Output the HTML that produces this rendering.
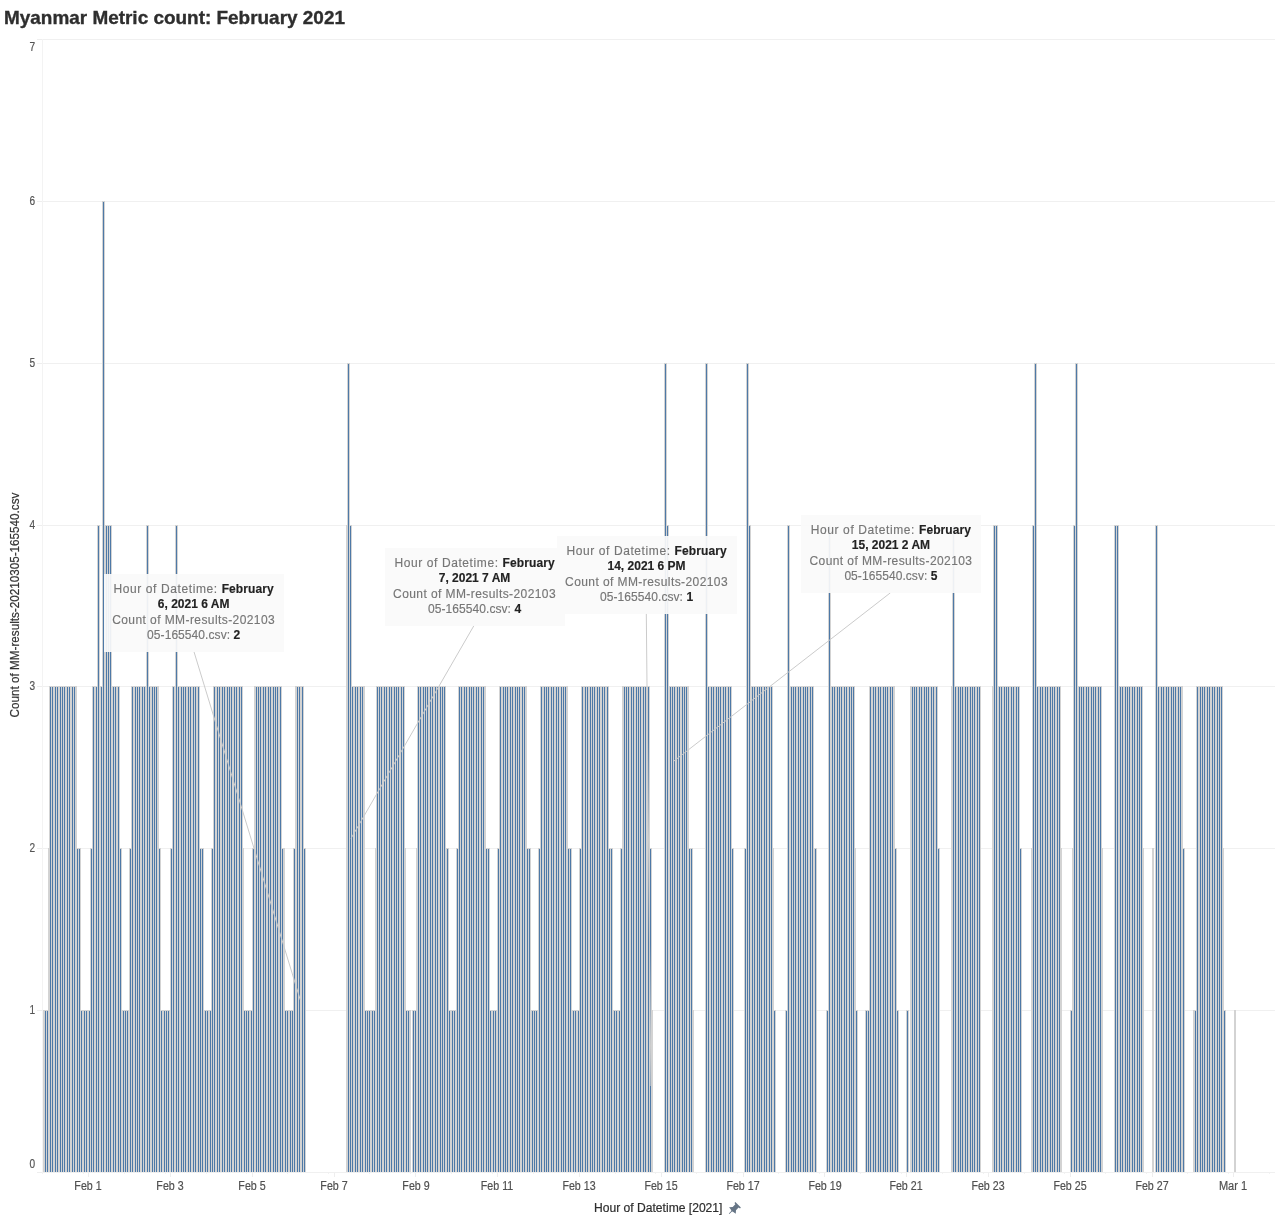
<!DOCTYPE html><html><head><meta charset="utf-8"><title>Myanmar Metric count: February 2021</title><style>
html,body{margin:0;padding:0;background:#fff}
body{width:1275px;height:1223px;position:relative;overflow:hidden;font-family:"Liberation Sans",sans-serif}
.t{position:absolute;white-space:pre;line-height:1}
.title{left:4px;top:9.4px;font-weight:bold;font-size:18.5px;color:#2e2e2e;-webkit-text-stroke:.35px #2e2e2e;transform-origin:0 0;transform:scaleX(1.0235)}
.yl{color:#555;-webkit-text-stroke:.2px #555;font-size:12px;width:30px;text-align:right;left:4.6px;transform-origin:100% 50%;transform:scaleX(.84)}
.xl{color:#505050;-webkit-text-stroke:.2px #505050;font-size:12px;width:60px;text-align:center;top:1179.6px;transform:scaleX(.888)}
.xt{left:593.9px;top:1202px;font-size:12px;color:#2e2e2e;-webkit-text-stroke:.2px #2e2e2e;transform-origin:0 0;transform:scaleX(1.008)}
.yt{left:14.8px;top:604.7px;font-size:12px;color:#333;-webkit-text-stroke:.2px #333;transform:translate(-50%,-50%) rotate(-90deg) scaleX(.974)}
.tip{position:absolute;width:180px;height:78px;background:rgba(250,250,250,.93);font-size:12px;color:#767676;-webkit-text-stroke:.15px #767676;text-align:center}
.tip div{position:absolute;left:0;width:100%;white-space:pre;line-height:15px;height:15px}
.tip b{color:#222;-webkit-text-stroke:.15px #222}
</style></head><body>
<svg width="1275" height="1223" viewBox="0 0 1275 1223" style="position:absolute;left:0;top:0" shape-rendering="crispEdges">
<rect x="43" y="1172" width="1232" height="1" fill="#f0f0f0"/>
<rect x="37" y="1172" width="6" height="1" fill="#eeeeee"/>
<rect x="43" y="1010" width="1232" height="1" fill="#f0f0f0"/>
<rect x="37" y="1010" width="6" height="1" fill="#eeeeee"/>
<rect x="43" y="848" width="1232" height="1" fill="#f0f0f0"/>
<rect x="37" y="848" width="6" height="1" fill="#eeeeee"/>
<rect x="43" y="686" width="1232" height="1" fill="#f0f0f0"/>
<rect x="37" y="686" width="6" height="1" fill="#eeeeee"/>
<rect x="43" y="525" width="1232" height="1" fill="#f0f0f0"/>
<rect x="37" y="525" width="6" height="1" fill="#eeeeee"/>
<rect x="43" y="363" width="1232" height="1" fill="#f0f0f0"/>
<rect x="37" y="363" width="6" height="1" fill="#eeeeee"/>
<rect x="43" y="201" width="1232" height="1" fill="#f0f0f0"/>
<rect x="37" y="201" width="6" height="1" fill="#eeeeee"/>
<rect x="43" y="39" width="1232" height="1" fill="#f0f0f0"/>
<rect x="37" y="39" width="6" height="1" fill="#eeeeee"/>
<rect x="42" y="39" width="1" height="1135" fill="#f3f3f3"/>
<rect x="88" y="1173" width="1" height="4" fill="#eeeeee"/>
<rect x="170" y="1173" width="1" height="4" fill="#eeeeee"/>
<rect x="252" y="1173" width="1" height="4" fill="#eeeeee"/>
<rect x="334" y="1173" width="1" height="4" fill="#eeeeee"/>
<rect x="415" y="1173" width="1" height="4" fill="#eeeeee"/>
<rect x="497" y="1173" width="1" height="4" fill="#eeeeee"/>
<rect x="579" y="1173" width="1" height="4" fill="#eeeeee"/>
<rect x="661" y="1173" width="1" height="4" fill="#eeeeee"/>
<rect x="743" y="1173" width="1" height="4" fill="#eeeeee"/>
<rect x="824" y="1173" width="1" height="4" fill="#eeeeee"/>
<rect x="906" y="1173" width="1" height="4" fill="#eeeeee"/>
<rect x="988" y="1173" width="1" height="4" fill="#eeeeee"/>
<rect x="1070" y="1173" width="1" height="4" fill="#eeeeee"/>
<rect x="1152" y="1173" width="1" height="4" fill="#eeeeee"/>
<rect x="1233" y="1173" width="1" height="4" fill="#eeeeee"/>
<rect x="42" y="1173" width="1" height="1" fill="#f2f2f2"/>
<rect x="83" y="1173" width="1" height="1" fill="#f2f2f2"/>
<rect x="124" y="1173" width="1" height="1" fill="#f2f2f2"/>
<rect x="165" y="1173" width="1" height="1" fill="#f2f2f2"/>
<rect x="206" y="1173" width="1" height="1" fill="#f2f2f2"/>
<rect x="246" y="1173" width="1" height="1" fill="#f2f2f2"/>
<rect x="287" y="1173" width="1" height="1" fill="#f2f2f2"/>
<rect x="328" y="1173" width="1" height="1" fill="#f2f2f2"/>
<rect x="369" y="1173" width="1" height="1" fill="#f2f2f2"/>
<rect x="410" y="1173" width="1" height="1" fill="#f2f2f2"/>
<rect x="451" y="1173" width="1" height="1" fill="#f2f2f2"/>
<rect x="492" y="1173" width="1" height="1" fill="#f2f2f2"/>
<rect x="533" y="1173" width="1" height="1" fill="#f2f2f2"/>
<rect x="574" y="1173" width="1" height="1" fill="#f2f2f2"/>
<rect x="615" y="1173" width="1" height="1" fill="#f2f2f2"/>
<rect x="655" y="1173" width="1" height="1" fill="#f2f2f2"/>
<rect x="696" y="1173" width="1" height="1" fill="#f2f2f2"/>
<rect x="737" y="1173" width="1" height="1" fill="#f2f2f2"/>
<rect x="778" y="1173" width="1" height="1" fill="#f2f2f2"/>
<rect x="819" y="1173" width="1" height="1" fill="#f2f2f2"/>
<rect x="860" y="1173" width="1" height="1" fill="#f2f2f2"/>
<rect x="901" y="1173" width="1" height="1" fill="#f2f2f2"/>
<rect x="942" y="1173" width="1" height="1" fill="#f2f2f2"/>
<rect x="983" y="1173" width="1" height="1" fill="#f2f2f2"/>
<rect x="1024" y="1173" width="1" height="1" fill="#f2f2f2"/>
<rect x="1064" y="1173" width="1" height="1" fill="#f2f2f2"/>
<rect x="1105" y="1173" width="1" height="1" fill="#f2f2f2"/>
<rect x="1146" y="1173" width="1" height="1" fill="#f2f2f2"/>
<rect x="1187" y="1173" width="1" height="1" fill="#f2f2f2"/>
<rect x="1228" y="1173" width="1" height="1" fill="#f2f2f2"/>
<rect x="1269" y="1173" width="1" height="1" fill="#f2f2f2"/>
<path d="M43 1010h1V1172h-1zM44 1010h1V1172h-1zM45 1010h1v1h-1zM46 1010h1V1172h-1zM47 1010h1v1h-1zM48 848h1V1172h-1zM49 686h1V1172h-1zM50 686h1v1h-1zM51 686h1V1172h-1zM52 686h1v1h-1zM53 686h1V1172h-1zM54 686h1V1172h-1zM55 686h1v1h-1zM56 686h1V1172h-1zM57 686h1v1h-1zM58 686h1V1172h-1zM59 686h1V1172h-1zM60 686h1v1h-1zM61 686h1V1172h-1zM62 686h1v1h-1zM63 686h1V1172h-1zM64 686h1v1h-1zM65 686h1V1172h-1zM66 686h1V1172h-1zM67 686h1v1h-1zM68 686h1V1172h-1zM69 686h1v1h-1zM70 686h1V1172h-1zM71 686h1V1172h-1zM72 686h1v1h-1zM73 686h1V1172h-1zM74 686h1v1h-1zM75 686h1V1172h-1zM76 686h1V1172h-1zM77 848h1v1h-1zM78 848h1V1172h-1zM79 848h1v1h-1zM80 848h1V1172h-1zM81 1010h1v1h-1zM82 1010h1V1172h-1zM83 1010h1V1172h-1zM84 1010h1v1h-1zM85 1010h1V1172h-1zM86 1010h1v1h-1zM87 1010h1V1172h-1zM88 1010h1V1172h-1zM89 1010h1v1h-1zM90 848h1V1172h-1zM91 848h1v1h-1zM92 686h1V1172h-1zM93 686h1v1h-1zM94 686h1V1172h-1zM95 686h1V1172h-1zM96 686h1v1h-1zM97 525h1V1172h-1zM98 525h1v1h-1zM99 525h1V1172h-1zM100 686h1V1172h-1zM101 686h1v1h-1zM102 201h1V1172h-1zM103 201h1v1h-1zM104 201h1V1172h-1zM105 525h1V1172h-1zM106 525h1v1h-1zM107 525h1V1172h-1zM108 525h1v1h-1zM109 525h1V1172h-1zM110 525h1v1h-1zM111 525h1V1172h-1zM112 686h1V1172h-1zM113 686h1v1h-1zM114 686h1V1172h-1zM115 686h1v1h-1zM116 686h1V1172h-1zM117 686h1V1172h-1zM118 686h1v1h-1zM119 686h1V1172h-1zM120 848h1v1h-1zM121 848h1V1172h-1zM122 1010h1V1172h-1zM123 1010h1v1h-1zM124 1010h1V1172h-1zM125 1010h1v1h-1zM126 1010h1V1172h-1zM127 1010h1v1h-1zM128 1010h1V1172h-1zM129 848h1V1172h-1zM130 848h1v1h-1zM131 686h1V1172h-1zM132 686h1v1h-1zM133 686h1V1172h-1zM134 686h1V1172h-1zM135 686h1v1h-1zM136 686h1V1172h-1zM137 686h1v1h-1zM138 686h1V1172h-1zM139 686h1v1h-1zM140 686h1V1172h-1zM141 686h1V1172h-1zM142 686h1v1h-1zM143 686h1V1172h-1zM144 686h1v1h-1zM145 686h1V1172h-1zM146 525h1V1172h-1zM147 525h1v1h-1zM148 525h1V1172h-1zM149 686h1v1h-1zM150 686h1V1172h-1zM151 686h1V1172h-1zM152 686h1v1h-1zM153 686h1V1172h-1zM154 686h1v1h-1zM155 686h1V1172h-1zM156 686h1v1h-1zM157 686h1V1172h-1zM158 686h1V1172h-1zM159 848h1v1h-1zM160 848h1V1172h-1zM161 1010h1v1h-1zM162 1010h1V1172h-1zM163 1010h1V1172h-1zM164 1010h1v1h-1zM165 1010h1V1172h-1zM166 1010h1v1h-1zM167 1010h1V1172h-1zM168 1010h1v1h-1zM169 1010h1V1172h-1zM170 848h1V1172h-1zM171 848h1v1h-1zM172 686h1V1172h-1zM173 686h1v1h-1zM174 686h1V1172h-1zM175 525h1V1172h-1zM176 525h1v1h-1zM177 525h1V1172h-1zM178 686h1v1h-1zM179 686h1V1172h-1zM180 686h1V1172h-1zM181 686h1v1h-1zM182 686h1V1172h-1zM183 686h1v1h-1zM184 686h1V1172h-1zM185 686h1v1h-1zM186 686h1V1172h-1zM187 686h1V1172h-1zM188 686h1v1h-1zM189 686h1V1172h-1zM190 686h1v1h-1zM191 686h1V1172h-1zM192 686h1V1172h-1zM193 686h1v1h-1zM194 686h1V1172h-1zM195 686h1v1h-1zM196 686h1V1172h-1zM197 686h1V1172h-1zM198 686h1v1h-1zM199 686h1V1172h-1zM200 848h1v1h-1zM201 848h1V1172h-1zM202 848h1v1h-1zM203 848h1V1172h-1zM204 1010h1V1172h-1zM205 1010h1v1h-1zM206 1010h1V1172h-1zM207 1010h1v1h-1zM208 1010h1V1172h-1zM209 1010h1V1172h-1zM210 1010h1v1h-1zM211 848h1V1172h-1zM212 848h1v1h-1zM213 686h1V1172h-1zM214 686h1v1h-1zM215 686h1V1172h-1zM216 686h1V1172h-1zM217 686h1v1h-1zM218 686h1V1172h-1zM219 686h1v1h-1zM220 686h1V1172h-1zM221 686h1V1172h-1zM222 686h1v1h-1zM223 686h1V1172h-1zM224 686h1v1h-1zM225 686h1V1172h-1zM226 686h1V1172h-1zM227 686h1v1h-1zM228 686h1V1172h-1zM229 686h1v1h-1zM230 686h1V1172h-1zM231 686h1v1h-1zM232 686h1V1172h-1zM233 686h1V1172h-1zM234 686h1v1h-1zM235 686h1V1172h-1zM236 686h1v1h-1zM237 686h1V1172h-1zM238 686h1V1172h-1zM239 686h1v1h-1zM240 686h1V1172h-1zM241 686h1v1h-1zM242 686h1V1172h-1zM243 848h1V1172h-1zM244 1010h1v1h-1zM245 1010h1V1172h-1zM246 1010h1v1h-1zM247 1010h1V1172h-1zM248 1010h1v1h-1zM249 1010h1V1172h-1zM250 1010h1V1172h-1zM251 1010h1v1h-1zM252 848h1V1172h-1zM253 848h1v1h-1zM254 686h1V1172h-1zM255 686h1V1172h-1zM256 686h1v1h-1zM257 686h1V1172h-1zM258 686h1v1h-1zM259 686h1V1172h-1zM260 686h1v1h-1zM261 686h1V1172h-1zM262 686h1V1172h-1zM263 686h1v1h-1zM264 686h1V1172h-1zM265 686h1v1h-1zM266 686h1V1172h-1zM267 686h1V1172h-1zM268 686h1v1h-1zM269 686h1V1172h-1zM270 686h1v1h-1zM271 686h1V1172h-1zM272 686h1V1172h-1zM273 686h1v1h-1zM274 686h1V1172h-1zM275 686h1v1h-1zM276 686h1V1172h-1zM277 686h1v1h-1zM278 686h1V1172h-1zM279 686h1V1172h-1zM280 686h1v1h-1zM281 686h1V1172h-1zM282 848h1v1h-1zM283 848h1V1172h-1zM284 848h1V1172h-1zM285 1010h1v1h-1zM286 1010h1V1172h-1zM287 1010h1v1h-1zM288 1010h1V1172h-1zM289 1010h1V1172h-1zM290 1010h1v1h-1zM291 1010h1V1172h-1zM292 1010h1v1h-1zM293 848h1V1172h-1zM294 848h1v1h-1zM295 686h1V1172h-1zM296 686h1V1172h-1zM297 686h1v1h-1zM298 686h1V1172h-1zM299 686h1v1h-1zM300 686h1V1172h-1zM301 686h1V1172h-1zM302 686h1v1h-1zM303 686h1V1172h-1zM304 848h1v1h-1zM346 525h1V1172h-1zM347 363h1V1172h-1zM348 363h1v1h-1zM349 363h1V1172h-1zM350 525h1v1h-1zM351 525h1V1172h-1zM352 686h1v1h-1zM353 686h1V1172h-1zM354 686h1V1172h-1zM355 686h1v1h-1zM356 686h1V1172h-1zM357 686h1v1h-1zM358 686h1V1172h-1zM359 686h1V1172h-1zM360 686h1v1h-1zM361 686h1V1172h-1zM362 686h1v1h-1zM363 686h1V1172h-1zM364 686h1V1172h-1zM365 1010h1v1h-1zM366 1010h1V1172h-1zM367 1010h1v1h-1zM368 1010h1V1172h-1zM369 1010h1v1h-1zM370 1010h1V1172h-1zM371 1010h1V1172h-1zM372 1010h1v1h-1zM373 1010h1V1172h-1zM374 1010h1v1h-1zM375 848h1V1172h-1zM376 686h1V1172h-1zM377 686h1v1h-1zM378 686h1V1172h-1zM379 686h1v1h-1zM380 686h1V1172h-1zM381 686h1v1h-1zM382 686h1V1172h-1zM383 686h1V1172h-1zM384 686h1v1h-1zM385 686h1V1172h-1zM386 686h1v1h-1zM387 686h1V1172h-1zM388 686h1V1172h-1zM389 686h1v1h-1zM390 686h1V1172h-1zM391 686h1v1h-1zM392 686h1V1172h-1zM393 686h1V1172h-1zM394 686h1v1h-1zM395 686h1V1172h-1zM396 686h1v1h-1zM397 686h1V1172h-1zM398 686h1v1h-1zM399 686h1V1172h-1zM400 686h1V1172h-1zM401 686h1v1h-1zM402 686h1V1172h-1zM403 686h1v1h-1zM404 686h1V1172h-1zM405 848h1V1172h-1zM406 1010h1v1h-1zM407 1010h1V1172h-1zM408 1010h1v1h-1zM409 1010h1V1172h-1zM410 1010h1V1172h-1zM412 1010h1V1172h-1zM413 1010h1v1h-1zM414 1010h1V1172h-1zM415 1010h1v1h-1zM416 848h1V1172h-1zM417 686h1V1172h-1zM418 686h1v1h-1zM419 686h1V1172h-1zM420 686h1v1h-1zM421 686h1V1172h-1zM422 686h1V1172h-1zM423 686h1v1h-1zM424 686h1V1172h-1zM425 686h1v1h-1zM426 686h1V1172h-1zM427 686h1v1h-1zM428 686h1V1172h-1zM429 686h1V1172h-1zM430 686h1v1h-1zM431 686h1V1172h-1zM432 686h1v1h-1zM433 686h1V1172h-1zM434 686h1V1172h-1zM435 686h1v1h-1zM436 686h1V1172h-1zM437 686h1v1h-1zM438 686h1V1172h-1zM439 686h1V1172h-1zM440 686h1v1h-1zM441 686h1V1172h-1zM442 686h1v1h-1zM443 686h1V1172h-1zM444 686h1v1h-1zM445 686h1V1172h-1zM446 848h1V1172h-1zM447 848h1v1h-1zM448 848h1V1172h-1zM449 1010h1v1h-1zM450 1010h1V1172h-1zM451 1010h1V1172h-1zM452 1010h1v1h-1zM453 1010h1V1172h-1zM454 1010h1v1h-1zM455 1010h1V1172h-1zM456 848h1V1172h-1zM457 848h1v1h-1zM458 686h1V1172h-1zM459 686h1v1h-1zM460 686h1V1172h-1zM461 686h1v1h-1zM462 686h1V1172h-1zM463 686h1V1172h-1zM464 686h1v1h-1zM465 686h1V1172h-1zM466 686h1v1h-1zM467 686h1V1172h-1zM468 686h1V1172h-1zM469 686h1v1h-1zM470 686h1V1172h-1zM471 686h1v1h-1zM472 686h1V1172h-1zM473 686h1v1h-1zM474 686h1V1172h-1zM475 686h1V1172h-1zM476 686h1v1h-1zM477 686h1V1172h-1zM478 686h1v1h-1zM479 686h1V1172h-1zM480 686h1V1172h-1zM481 686h1v1h-1zM482 686h1V1172h-1zM483 686h1v1h-1zM484 686h1V1172h-1zM485 686h1V1172h-1zM486 848h1v1h-1zM487 848h1V1172h-1zM488 848h1v1h-1zM489 848h1V1172h-1zM490 1010h1v1h-1zM491 1010h1V1172h-1zM492 1010h1V1172h-1zM493 1010h1v1h-1zM494 1010h1V1172h-1zM495 1010h1v1h-1zM496 1010h1V1172h-1zM497 848h1V1172h-1zM498 848h1v1h-1zM499 686h1V1172h-1zM500 686h1v1h-1zM501 686h1V1172h-1zM502 686h1V1172h-1zM503 686h1v1h-1zM504 686h1V1172h-1zM505 686h1v1h-1zM506 686h1V1172h-1zM507 686h1v1h-1zM508 686h1V1172h-1zM509 686h1V1172h-1zM510 686h1v1h-1zM511 686h1V1172h-1zM512 686h1v1h-1zM513 686h1V1172h-1zM514 686h1V1172h-1zM515 686h1v1h-1zM516 686h1V1172h-1zM517 686h1v1h-1zM518 686h1V1172h-1zM519 686h1v1h-1zM520 686h1V1172h-1zM521 686h1V1172h-1zM522 686h1v1h-1zM523 686h1V1172h-1zM524 686h1v1h-1zM525 686h1V1172h-1zM526 686h1V1172h-1zM527 848h1v1h-1zM528 848h1V1172h-1zM529 848h1v1h-1zM530 848h1V1172h-1zM531 1010h1V1172h-1zM532 1010h1v1h-1zM533 1010h1V1172h-1zM534 1010h1v1h-1zM535 1010h1V1172h-1zM536 1010h1v1h-1zM537 1010h1V1172h-1zM538 848h1V1172h-1zM539 848h1v1h-1zM540 686h1V1172h-1zM541 686h1v1h-1zM542 686h1V1172h-1zM543 686h1V1172h-1zM544 686h1v1h-1zM545 686h1V1172h-1zM546 686h1v1h-1zM547 686h1V1172h-1zM548 686h1v1h-1zM549 686h1V1172h-1zM550 686h1V1172h-1zM551 686h1v1h-1zM552 686h1V1172h-1zM553 686h1v1h-1zM554 686h1V1172h-1zM555 686h1V1172h-1zM556 686h1v1h-1zM557 686h1V1172h-1zM558 686h1v1h-1zM559 686h1V1172h-1zM560 686h1V1172h-1zM561 686h1v1h-1zM562 686h1V1172h-1zM563 686h1v1h-1zM564 686h1V1172h-1zM565 686h1v1h-1zM566 686h1V1172h-1zM567 686h1V1172h-1zM568 848h1v1h-1zM569 848h1V1172h-1zM570 848h1v1h-1zM571 848h1V1172h-1zM572 1010h1V1172h-1zM573 1010h1v1h-1zM574 1010h1V1172h-1zM575 1010h1v1h-1zM576 1010h1V1172h-1zM577 1010h1V1172h-1zM578 1010h1v1h-1zM579 848h1V1172h-1zM580 848h1v1h-1zM581 686h1V1172h-1zM582 686h1v1h-1zM583 686h1V1172h-1zM584 686h1V1172h-1zM585 686h1v1h-1zM586 686h1V1172h-1zM587 686h1v1h-1zM588 686h1V1172h-1zM589 686h1V1172h-1zM590 686h1v1h-1zM591 686h1V1172h-1zM592 686h1v1h-1zM593 686h1V1172h-1zM594 686h1v1h-1zM595 686h1V1172h-1zM596 686h1V1172h-1zM597 686h1v1h-1zM598 686h1V1172h-1zM599 686h1v1h-1zM600 686h1V1172h-1zM601 686h1V1172h-1zM602 686h1v1h-1zM603 686h1V1172h-1zM604 686h1v1h-1zM605 686h1V1172h-1zM606 686h1V1172h-1zM607 686h1v1h-1zM608 686h1V1172h-1zM609 848h1v1h-1zM610 848h1V1172h-1zM611 848h1v1h-1zM612 848h1V1172h-1zM613 1010h1V1172h-1zM614 1010h1v1h-1zM615 1010h1V1172h-1zM616 1010h1v1h-1zM617 1010h1V1172h-1zM618 1010h1V1172h-1zM619 1010h1v1h-1zM620 848h1V1172h-1zM621 848h1v1h-1zM622 686h1V1172h-1zM623 686h1V1172h-1zM624 686h1v1h-1zM625 686h1V1172h-1zM626 686h1v1h-1zM627 686h1V1172h-1zM628 686h1v1h-1zM629 686h1V1172h-1zM630 686h1V1172h-1zM631 686h1v1h-1zM632 686h1V1172h-1zM633 686h1v1h-1zM634 686h1V1172h-1zM635 686h1V1172h-1zM636 686h1v1h-1zM637 686h1V1172h-1zM638 686h1v1h-1zM639 686h1V1172h-1zM640 686h1v1h-1zM641 686h1V1172h-1zM642 686h1V1172h-1zM643 686h1v1h-1zM644 686h1V1172h-1zM645 686h1v1h-1zM646 686h1V1172h-1zM647 686h1V1172h-1zM648 686h1v1h-1zM649 686h1V1172h-1zM650 848h1v1h-1zM651 848h1V1172h-1zM652 1010h1V1172h-1zM664 363h1V1172h-1zM665 363h1v1h-1zM666 363h1V1172h-1zM667 525h1v1h-1zM668 525h1V1172h-1zM669 686h1V1172h-1zM670 686h1v1h-1zM671 686h1V1172h-1zM672 686h1v1h-1zM673 686h1V1172h-1zM674 686h1v1h-1zM675 686h1V1172h-1zM676 686h1V1172h-1zM677 686h1v1h-1zM678 686h1V1172h-1zM679 686h1v1h-1zM680 686h1V1172h-1zM681 686h1V1172h-1zM682 686h1v1h-1zM683 686h1V1172h-1zM684 686h1v1h-1zM685 686h1V1172h-1zM686 686h1v1h-1zM687 686h1V1172h-1zM688 686h1V1172h-1zM689 848h1v1h-1zM690 848h1V1172h-1zM691 848h1v1h-1zM692 848h1V1172h-1zM693 1010h1V1172h-1zM705 363h1V1172h-1zM706 363h1v1h-1zM707 363h1V1172h-1zM708 686h1v1h-1zM709 686h1V1172h-1zM710 686h1V1172h-1zM711 686h1v1h-1zM712 686h1V1172h-1zM713 686h1v1h-1zM714 686h1V1172h-1zM715 686h1V1172h-1zM716 686h1v1h-1zM717 686h1V1172h-1zM718 686h1v1h-1zM719 686h1V1172h-1zM720 686h1v1h-1zM721 686h1V1172h-1zM722 686h1V1172h-1zM723 686h1v1h-1zM724 686h1V1172h-1zM725 686h1v1h-1zM726 686h1V1172h-1zM727 686h1V1172h-1zM728 686h1v1h-1zM729 686h1V1172h-1zM730 686h1v1h-1zM731 686h1V1172h-1zM732 848h1v1h-1zM744 848h1V1172h-1zM745 848h1v1h-1zM746 363h1V1172h-1zM747 363h1v1h-1zM748 363h1V1172h-1zM749 525h1v1h-1zM750 525h1V1172h-1zM751 686h1V1172h-1zM752 686h1v1h-1zM753 686h1V1172h-1zM754 686h1v1h-1zM755 686h1V1172h-1zM756 686h1V1172h-1zM757 686h1v1h-1zM758 686h1V1172h-1zM759 686h1v1h-1zM760 686h1V1172h-1zM761 686h1v1h-1zM762 686h1V1172h-1zM763 686h1V1172h-1zM764 686h1v1h-1zM765 686h1V1172h-1zM766 686h1v1h-1zM767 686h1V1172h-1zM768 686h1V1172h-1zM769 686h1v1h-1zM770 686h1V1172h-1zM771 686h1v1h-1zM772 686h1V1172h-1zM773 848h1V1172h-1zM774 1010h1v1h-1zM785 1010h1V1172h-1zM786 1010h1v1h-1zM787 525h1V1172h-1zM788 525h1v1h-1zM789 525h1V1172h-1zM790 686h1V1172h-1zM791 686h1v1h-1zM792 686h1V1172h-1zM793 686h1v1h-1zM794 686h1V1172h-1zM795 686h1v1h-1zM796 686h1V1172h-1zM797 686h1V1172h-1zM798 686h1v1h-1zM799 686h1V1172h-1zM800 686h1v1h-1zM801 686h1V1172h-1zM802 686h1V1172h-1zM803 686h1v1h-1zM804 686h1V1172h-1zM805 686h1v1h-1zM806 686h1V1172h-1zM807 686h1v1h-1zM808 686h1V1172h-1zM809 686h1V1172h-1zM810 686h1v1h-1zM811 686h1V1172h-1zM812 686h1v1h-1zM813 686h1V1172h-1zM814 848h1V1172h-1zM815 848h1v1h-1zM826 1010h1V1172h-1zM827 1010h1v1h-1zM828 525h1V1172h-1zM829 525h1v1h-1zM830 525h1V1172h-1zM831 686h1V1172h-1zM832 686h1v1h-1zM833 686h1V1172h-1zM834 686h1v1h-1zM835 686h1V1172h-1zM836 686h1V1172h-1zM837 686h1v1h-1zM838 686h1V1172h-1zM839 686h1v1h-1zM840 686h1V1172h-1zM841 686h1v1h-1zM842 686h1V1172h-1zM843 686h1V1172h-1zM844 686h1v1h-1zM845 686h1V1172h-1zM846 686h1v1h-1zM847 686h1V1172h-1zM848 686h1V1172h-1zM849 686h1v1h-1zM850 686h1V1172h-1zM851 686h1v1h-1zM852 686h1V1172h-1zM853 686h1v1h-1zM854 686h1V1172h-1zM855 848h1V1172h-1zM856 1010h1v1h-1zM865 1010h1V1172h-1zM866 1010h1v1h-1zM867 1010h1V1172h-1zM868 1010h1v1h-1zM869 686h1V1172h-1zM870 686h1v1h-1zM871 686h1V1172h-1zM872 686h1V1172h-1zM873 686h1v1h-1zM874 686h1V1172h-1zM875 686h1v1h-1zM876 686h1V1172h-1zM877 686h1V1172h-1zM878 686h1v1h-1zM879 686h1V1172h-1zM880 686h1v1h-1zM881 686h1V1172h-1zM882 686h1V1172h-1zM883 686h1v1h-1zM884 686h1V1172h-1zM885 686h1v1h-1zM886 686h1V1172h-1zM887 686h1v1h-1zM888 686h1V1172h-1zM889 686h1V1172h-1zM890 686h1v1h-1zM891 686h1V1172h-1zM892 686h1v1h-1zM893 686h1V1172h-1zM894 686h1V1172h-1zM895 848h1v1h-1zM896 848h1V1172h-1zM897 1010h1v1h-1zM906 1010h1V1172h-1zM907 1010h1v1h-1zM910 686h1V1172h-1zM911 686h1V1172h-1zM912 686h1v1h-1zM913 686h1V1172h-1zM914 686h1v1h-1zM915 686h1V1172h-1zM916 686h1v1h-1zM917 686h1V1172h-1zM918 686h1V1172h-1zM919 686h1v1h-1zM920 686h1V1172h-1zM921 686h1v1h-1zM922 686h1V1172h-1zM923 686h1V1172h-1zM924 686h1v1h-1zM925 686h1V1172h-1zM926 686h1v1h-1zM927 686h1V1172h-1zM928 686h1v1h-1zM929 686h1V1172h-1zM930 686h1V1172h-1zM931 686h1v1h-1zM932 686h1V1172h-1zM933 686h1v1h-1zM934 686h1V1172h-1zM935 686h1V1172h-1zM936 686h1v1h-1zM937 686h1V1172h-1zM938 848h1v1h-1zM951 686h1V1172h-1zM952 525h1V1172h-1zM953 525h1v1h-1zM954 525h1V1172h-1zM955 686h1v1h-1zM956 686h1V1172h-1zM957 686h1V1172h-1zM958 686h1v1h-1zM959 686h1V1172h-1zM960 686h1v1h-1zM961 686h1V1172h-1zM962 686h1v1h-1zM963 686h1V1172h-1zM964 686h1V1172h-1zM965 686h1v1h-1zM966 686h1V1172h-1zM967 686h1v1h-1zM968 686h1V1172h-1zM969 686h1V1172h-1zM970 686h1v1h-1zM971 686h1V1172h-1zM972 686h1v1h-1zM973 686h1V1172h-1zM974 686h1v1h-1zM975 686h1V1172h-1zM976 686h1V1172h-1zM977 686h1v1h-1zM978 686h1V1172h-1zM979 686h1v1h-1zM992 686h1V1172h-1zM993 525h1V1172h-1zM994 525h1v1h-1zM995 525h1V1172h-1zM996 525h1v1h-1zM997 525h1V1172h-1zM998 686h1V1172h-1zM999 686h1v1h-1zM1000 686h1V1172h-1zM1001 686h1v1h-1zM1002 686h1V1172h-1zM1003 686h1V1172h-1zM1004 686h1v1h-1zM1005 686h1V1172h-1zM1006 686h1v1h-1zM1007 686h1V1172h-1zM1008 686h1v1h-1zM1009 686h1V1172h-1zM1010 686h1V1172h-1zM1011 686h1v1h-1zM1012 686h1V1172h-1zM1013 686h1v1h-1zM1014 686h1V1172h-1zM1015 686h1V1172h-1zM1016 686h1v1h-1zM1017 686h1V1172h-1zM1018 686h1v1h-1zM1019 686h1V1172h-1zM1020 848h1v1h-1zM1031 848h1V1172h-1zM1032 525h1V1172h-1zM1033 525h1v1h-1zM1034 363h1V1172h-1zM1035 363h1v1h-1zM1036 363h1V1172h-1zM1037 686h1v1h-1zM1038 686h1V1172h-1zM1039 686h1V1172h-1zM1040 686h1v1h-1zM1041 686h1V1172h-1zM1042 686h1v1h-1zM1043 686h1V1172h-1zM1044 686h1V1172h-1zM1045 686h1v1h-1zM1046 686h1V1172h-1zM1047 686h1v1h-1zM1048 686h1V1172h-1zM1049 686h1V1172h-1zM1050 686h1v1h-1zM1051 686h1V1172h-1zM1052 686h1v1h-1zM1053 686h1V1172h-1zM1054 686h1v1h-1zM1055 686h1V1172h-1zM1056 686h1V1172h-1zM1057 686h1v1h-1zM1058 686h1V1172h-1zM1059 686h1v1h-1zM1060 686h1V1172h-1zM1061 848h1V1172h-1zM1070 1010h1V1172h-1zM1071 1010h1v1h-1zM1072 848h1V1172h-1zM1073 525h1V1172h-1zM1074 525h1v1h-1zM1075 363h1V1172h-1zM1076 363h1v1h-1zM1077 363h1V1172h-1zM1078 686h1V1172h-1zM1079 686h1v1h-1zM1080 686h1V1172h-1zM1081 686h1v1h-1zM1082 686h1V1172h-1zM1083 686h1v1h-1zM1084 686h1V1172h-1zM1085 686h1V1172h-1zM1086 686h1v1h-1zM1087 686h1V1172h-1zM1088 686h1v1h-1zM1089 686h1V1172h-1zM1090 686h1V1172h-1zM1091 686h1v1h-1zM1092 686h1V1172h-1zM1093 686h1v1h-1zM1094 686h1V1172h-1zM1095 686h1v1h-1zM1096 686h1V1172h-1zM1097 686h1V1172h-1zM1098 686h1v1h-1zM1099 686h1V1172h-1zM1100 686h1v1h-1zM1101 686h1V1172h-1zM1102 848h1V1172h-1zM1114 525h1V1172h-1zM1115 525h1v1h-1zM1116 525h1V1172h-1zM1117 525h1v1h-1zM1118 525h1V1172h-1zM1119 686h1V1172h-1zM1120 686h1v1h-1zM1121 686h1V1172h-1zM1122 686h1v1h-1zM1123 686h1V1172h-1zM1124 686h1V1172h-1zM1125 686h1v1h-1zM1126 686h1V1172h-1zM1127 686h1v1h-1zM1128 686h1V1172h-1zM1129 686h1v1h-1zM1130 686h1V1172h-1zM1131 686h1V1172h-1zM1132 686h1v1h-1zM1133 686h1V1172h-1zM1134 686h1v1h-1zM1135 686h1V1172h-1zM1136 686h1V1172h-1zM1137 686h1v1h-1zM1138 686h1V1172h-1zM1139 686h1v1h-1zM1140 686h1V1172h-1zM1141 686h1v1h-1zM1142 686h1V1172h-1zM1143 848h1V1172h-1zM1152 848h1V1172h-1zM1153 848h1V1172h-1zM1155 525h1V1172h-1zM1156 525h1v1h-1zM1157 525h1V1172h-1zM1158 686h1v1h-1zM1159 686h1V1172h-1zM1160 686h1V1172h-1zM1161 686h1v1h-1zM1162 686h1V1172h-1zM1163 686h1v1h-1zM1164 686h1V1172h-1zM1165 686h1V1172h-1zM1166 686h1v1h-1zM1167 686h1V1172h-1zM1168 686h1v1h-1zM1169 686h1V1172h-1zM1170 686h1V1172h-1zM1171 686h1v1h-1zM1172 686h1V1172h-1zM1173 686h1v1h-1zM1174 686h1V1172h-1zM1175 686h1v1h-1zM1176 686h1V1172h-1zM1177 686h1V1172h-1zM1178 686h1v1h-1zM1179 686h1V1172h-1zM1180 686h1v1h-1zM1181 686h1V1172h-1zM1182 686h1V1172h-1zM1183 848h1v1h-1zM1193 1010h1V1172h-1zM1194 1010h1V1172h-1zM1195 1010h1v1h-1zM1196 686h1V1172h-1zM1197 686h1v1h-1zM1198 686h1V1172h-1zM1199 686h1V1172h-1zM1200 686h1v1h-1zM1201 686h1V1172h-1zM1202 686h1v1h-1zM1203 686h1V1172h-1zM1204 686h1v1h-1zM1205 686h1V1172h-1zM1206 686h1V1172h-1zM1207 686h1v1h-1zM1208 686h1V1172h-1zM1209 686h1v1h-1zM1210 686h1V1172h-1zM1211 686h1V1172h-1zM1212 686h1v1h-1zM1213 686h1V1172h-1zM1214 686h1v1h-1zM1215 686h1V1172h-1zM1216 686h1V1172h-1zM1217 686h1v1h-1zM1218 686h1V1172h-1zM1219 686h1v1h-1zM1220 686h1V1172h-1zM1221 686h1v1h-1zM1222 686h1V1172h-1zM1223 848h1V1172h-1zM1224 1010h1v1h-1zM1234 1010h1V1172h-1zM1235 1010h1V1172h-1z" fill="#d3d3d3"/>
<path d="M305 848h1V1172h-1zM733 848h1V1172h-1zM775 1010h1V1172h-1zM816 848h1V1172h-1zM857 1010h1V1172h-1zM898 1010h1V1172h-1zM908 1010h1V1172h-1zM939 848h1V1172h-1zM980 686h1V1172h-1zM1021 848h1V1172h-1zM1184 848h1V1172h-1zM1225 1010h1V1172h-1z" fill="#d3d3d3"/>
<path d="M45 1011h1V1172h-1zM47 1011h1V1172h-1zM50 687h1V1172h-1zM52 687h1V1172h-1zM55 687h1V1172h-1zM57 687h1V1172h-1zM60 687h1V1172h-1zM62 687h1V1172h-1zM64 687h1V1172h-1zM67 687h1V1172h-1zM69 687h1V1172h-1zM72 687h1V1172h-1zM74 687h1V1172h-1zM77 849h1V1172h-1zM79 849h1V1172h-1zM81 1011h1V1172h-1zM84 1011h1V1172h-1zM86 1011h1V1172h-1zM89 1011h1V1172h-1zM91 849h1V1172h-1zM93 687h1V1172h-1zM96 687h1V1172h-1zM98 526h1V1172h-1zM101 687h1V1172h-1zM103 202h1V1172h-1zM106 526h1V1172h-1zM108 526h1V1172h-1zM110 526h1V1172h-1zM113 687h1V1172h-1zM115 687h1V1172h-1zM118 687h1V1172h-1zM120 849h1V1172h-1zM123 1011h1V1172h-1zM125 1011h1V1172h-1zM127 1011h1V1172h-1zM130 849h1V1172h-1zM132 687h1V1172h-1zM135 687h1V1172h-1zM137 687h1V1172h-1zM139 687h1V1172h-1zM142 687h1V1172h-1zM144 687h1V1172h-1zM147 526h1V1172h-1zM149 687h1V1172h-1zM152 687h1V1172h-1zM154 687h1V1172h-1zM156 687h1V1172h-1zM159 849h1V1172h-1zM161 1011h1V1172h-1zM164 1011h1V1172h-1zM166 1011h1V1172h-1zM168 1011h1V1172h-1zM171 849h1V1172h-1zM173 687h1V1172h-1zM176 526h1V1172h-1zM178 687h1V1172h-1zM181 687h1V1172h-1zM183 687h1V1172h-1zM185 687h1V1172h-1zM188 687h1V1172h-1zM190 687h1V1172h-1zM193 687h1V1172h-1zM195 687h1V1172h-1zM198 687h1V1172h-1zM200 849h1V1172h-1zM202 849h1V1172h-1zM205 1011h1V1172h-1zM207 1011h1V1172h-1zM210 1011h1V1172h-1zM212 849h1V1172h-1zM214 687h1V1172h-1zM217 687h1V1172h-1zM219 687h1V1172h-1zM222 687h1V1172h-1zM224 687h1V1172h-1zM227 687h1V1172h-1zM229 687h1V1172h-1zM231 687h1V1172h-1zM234 687h1V1172h-1zM236 687h1V1172h-1zM239 687h1V1172h-1zM241 687h1V1172h-1zM244 1011h1V1172h-1zM246 1011h1V1172h-1zM248 1011h1V1172h-1zM251 1011h1V1172h-1zM253 849h1V1172h-1zM256 687h1V1172h-1zM258 687h1V1172h-1zM260 687h1V1172h-1zM263 687h1V1172h-1zM265 687h1V1172h-1zM268 687h1V1172h-1zM270 687h1V1172h-1zM273 687h1V1172h-1zM275 687h1V1172h-1zM277 687h1V1172h-1zM280 687h1V1172h-1zM282 849h1V1172h-1zM285 1011h1V1172h-1zM287 1011h1V1172h-1zM290 1011h1V1172h-1zM292 1011h1V1172h-1zM294 849h1V1172h-1zM297 687h1V1172h-1zM299 687h1V1172h-1zM302 687h1V1172h-1zM304 849h1V1172h-1zM348 364h1V1172h-1zM350 526h1V1172h-1zM352 687h1V1172h-1zM355 687h1V1172h-1zM357 687h1V1172h-1zM360 687h1V1172h-1zM362 687h1V1172h-1zM365 1011h1V1172h-1zM367 1011h1V1172h-1zM369 1011h1V1172h-1zM372 1011h1V1172h-1zM374 1011h1V1172h-1zM377 687h1V1172h-1zM379 687h1V1172h-1zM381 687h1V1172h-1zM384 687h1V1172h-1zM386 687h1V1172h-1zM389 687h1V1172h-1zM391 687h1V1172h-1zM394 687h1V1172h-1zM396 687h1V1172h-1zM398 687h1V1172h-1zM401 687h1V1172h-1zM403 687h1V1172h-1zM406 1011h1V1172h-1zM408 1011h1V1172h-1zM413 1011h1V1172h-1zM415 1011h1V1172h-1zM418 687h1V1172h-1zM420 687h1V1172h-1zM423 687h1V1172h-1zM425 687h1V1172h-1zM427 687h1V1172h-1zM430 687h1V1172h-1zM432 687h1V1172h-1zM435 687h1V1172h-1zM437 687h1V1172h-1zM440 687h1V1172h-1zM442 687h1V1172h-1zM444 687h1V1172h-1zM447 849h1V1172h-1zM449 1011h1V1172h-1zM452 1011h1V1172h-1zM454 1011h1V1172h-1zM457 849h1V1172h-1zM459 687h1V1172h-1zM461 687h1V1172h-1zM464 687h1V1172h-1zM466 687h1V1172h-1zM469 687h1V1172h-1zM471 687h1V1172h-1zM473 687h1V1172h-1zM476 687h1V1172h-1zM478 687h1V1172h-1zM481 687h1V1172h-1zM483 687h1V1172h-1zM486 849h1V1172h-1zM488 849h1V1172h-1zM490 1011h1V1172h-1zM493 1011h1V1172h-1zM495 1011h1V1172h-1zM498 849h1V1172h-1zM500 687h1V1172h-1zM503 687h1V1172h-1zM505 687h1V1172h-1zM507 687h1V1172h-1zM510 687h1V1172h-1zM512 687h1V1172h-1zM515 687h1V1172h-1zM517 687h1V1172h-1zM519 687h1V1172h-1zM522 687h1V1172h-1zM524 687h1V1172h-1zM527 849h1V1172h-1zM529 849h1V1172h-1zM532 1011h1V1172h-1zM534 1011h1V1172h-1zM536 1011h1V1172h-1zM539 849h1V1172h-1zM541 687h1V1172h-1zM544 687h1V1172h-1zM546 687h1V1172h-1zM548 687h1V1172h-1zM551 687h1V1172h-1zM553 687h1V1172h-1zM556 687h1V1172h-1zM558 687h1V1172h-1zM561 687h1V1172h-1zM563 687h1V1172h-1zM565 687h1V1172h-1zM568 849h1V1172h-1zM570 849h1V1172h-1zM573 1011h1V1172h-1zM575 1011h1V1172h-1zM578 1011h1V1172h-1zM580 849h1V1172h-1zM582 687h1V1172h-1zM585 687h1V1172h-1zM587 687h1V1172h-1zM590 687h1V1172h-1zM592 687h1V1172h-1zM594 687h1V1172h-1zM597 687h1V1172h-1zM599 687h1V1172h-1zM602 687h1V1172h-1zM604 687h1V1172h-1zM607 687h1V1172h-1zM609 849h1V1172h-1zM611 849h1V1172h-1zM614 1011h1V1172h-1zM616 1011h1V1172h-1zM619 1011h1V1172h-1zM621 849h1V1172h-1zM624 687h1V1172h-1zM626 687h1V1172h-1zM628 687h1V1172h-1zM631 687h1V1172h-1zM633 687h1V1172h-1zM636 687h1V1172h-1zM638 687h1V1172h-1zM640 687h1V1172h-1zM643 687h1V1172h-1zM645 687h1V1172h-1zM648 687h1V1172h-1zM650 849h1V1172h-1zM665 364h1V1172h-1zM667 526h1V1172h-1zM670 687h1V1172h-1zM672 687h1V1172h-1zM674 687h1V1172h-1zM677 687h1V1172h-1zM679 687h1V1172h-1zM682 687h1V1172h-1zM684 687h1V1172h-1zM686 687h1V1172h-1zM689 849h1V1172h-1zM691 849h1V1172h-1zM706 364h1V1172h-1zM708 687h1V1172h-1zM711 687h1V1172h-1zM713 687h1V1172h-1zM716 687h1V1172h-1zM718 687h1V1172h-1zM720 687h1V1172h-1zM723 687h1V1172h-1zM725 687h1V1172h-1zM728 687h1V1172h-1zM730 687h1V1172h-1zM732 849h1V1172h-1zM745 849h1V1172h-1zM747 364h1V1172h-1zM749 526h1V1172h-1zM752 687h1V1172h-1zM754 687h1V1172h-1zM757 687h1V1172h-1zM759 687h1V1172h-1zM761 687h1V1172h-1zM764 687h1V1172h-1zM766 687h1V1172h-1zM769 687h1V1172h-1zM771 687h1V1172h-1zM774 1011h1V1172h-1zM786 1011h1V1172h-1zM788 526h1V1172h-1zM791 687h1V1172h-1zM793 687h1V1172h-1zM795 687h1V1172h-1zM798 687h1V1172h-1zM800 687h1V1172h-1zM803 687h1V1172h-1zM805 687h1V1172h-1zM807 687h1V1172h-1zM810 687h1V1172h-1zM812 687h1V1172h-1zM815 849h1V1172h-1zM827 1011h1V1172h-1zM829 526h1V1172h-1zM832 687h1V1172h-1zM834 687h1V1172h-1zM837 687h1V1172h-1zM839 687h1V1172h-1zM841 687h1V1172h-1zM844 687h1V1172h-1zM846 687h1V1172h-1zM849 687h1V1172h-1zM851 687h1V1172h-1zM853 687h1V1172h-1zM856 1011h1V1172h-1zM866 1011h1V1172h-1zM868 1011h1V1172h-1zM870 687h1V1172h-1zM873 687h1V1172h-1zM875 687h1V1172h-1zM878 687h1V1172h-1zM880 687h1V1172h-1zM883 687h1V1172h-1zM885 687h1V1172h-1zM887 687h1V1172h-1zM890 687h1V1172h-1zM892 687h1V1172h-1zM895 849h1V1172h-1zM897 1011h1V1172h-1zM907 1011h1V1172h-1zM912 687h1V1172h-1zM914 687h1V1172h-1zM916 687h1V1172h-1zM919 687h1V1172h-1zM921 687h1V1172h-1zM924 687h1V1172h-1zM926 687h1V1172h-1zM928 687h1V1172h-1zM931 687h1V1172h-1zM933 687h1V1172h-1zM936 687h1V1172h-1zM938 849h1V1172h-1zM953 526h1V1172h-1zM955 687h1V1172h-1zM958 687h1V1172h-1zM960 687h1V1172h-1zM962 687h1V1172h-1zM965 687h1V1172h-1zM967 687h1V1172h-1zM970 687h1V1172h-1zM972 687h1V1172h-1zM974 687h1V1172h-1zM977 687h1V1172h-1zM979 687h1V1172h-1zM994 526h1V1172h-1zM996 526h1V1172h-1zM999 687h1V1172h-1zM1001 687h1V1172h-1zM1004 687h1V1172h-1zM1006 687h1V1172h-1zM1008 687h1V1172h-1zM1011 687h1V1172h-1zM1013 687h1V1172h-1zM1016 687h1V1172h-1zM1018 687h1V1172h-1zM1020 849h1V1172h-1zM1033 526h1V1172h-1zM1035 364h1V1172h-1zM1037 687h1V1172h-1zM1040 687h1V1172h-1zM1042 687h1V1172h-1zM1045 687h1V1172h-1zM1047 687h1V1172h-1zM1050 687h1V1172h-1zM1052 687h1V1172h-1zM1054 687h1V1172h-1zM1057 687h1V1172h-1zM1059 687h1V1172h-1zM1071 1011h1V1172h-1zM1074 526h1V1172h-1zM1076 364h1V1172h-1zM1079 687h1V1172h-1zM1081 687h1V1172h-1zM1083 687h1V1172h-1zM1086 687h1V1172h-1zM1088 687h1V1172h-1zM1091 687h1V1172h-1zM1093 687h1V1172h-1zM1095 687h1V1172h-1zM1098 687h1V1172h-1zM1100 687h1V1172h-1zM1115 526h1V1172h-1zM1117 526h1V1172h-1zM1120 687h1V1172h-1zM1122 687h1V1172h-1zM1125 687h1V1172h-1zM1127 687h1V1172h-1zM1129 687h1V1172h-1zM1132 687h1V1172h-1zM1134 687h1V1172h-1zM1137 687h1V1172h-1zM1139 687h1V1172h-1zM1141 687h1V1172h-1zM1156 526h1V1172h-1zM1158 687h1V1172h-1zM1161 687h1V1172h-1zM1163 687h1V1172h-1zM1166 687h1V1172h-1zM1168 687h1V1172h-1zM1171 687h1V1172h-1zM1173 687h1V1172h-1zM1175 687h1V1172h-1zM1178 687h1V1172h-1zM1180 687h1V1172h-1zM1183 849h1V1172h-1zM1195 1011h1V1172h-1zM1197 687h1V1172h-1zM1200 687h1V1172h-1zM1202 687h1V1172h-1zM1204 687h1V1172h-1zM1207 687h1V1172h-1zM1209 687h1V1172h-1zM1212 687h1V1172h-1zM1214 687h1V1172h-1zM1217 687h1V1172h-1zM1219 687h1V1172h-1zM1221 687h1V1172h-1zM1224 1011h1V1172h-1z" fill="#4e79a7"/>
</svg>
<svg width="1275" height="1223" viewBox="0 0 1275 1223" style="position:absolute;left:0;top:0"><g stroke="#cbcbcb" stroke-width="1" fill="none"><line x1="194" y1="651.8" x2="300.3" y2="1000"/><line x1="474" y1="625.5" x2="351" y2="838.5"/><line x1="646.3" y1="613.3" x2="650.9" y2="1086"/><line x1="890.4" y1="592.8" x2="674" y2="761"/></g></svg>
<div class="t title">Myanmar Metric count: February 2021</div>
<div class="t yl" style="top:1158.2px">0</div>
<div class="t yl" style="top:1004.1px">1</div>
<div class="t yl" style="top:842.2px">2</div>
<div class="t yl" style="top:680.4px">3</div>
<div class="t yl" style="top:518.5px">4</div>
<div class="t yl" style="top:356.7px">5</div>
<div class="t yl" style="top:194.8px">6</div>
<div class="t yl" style="top:41.4px">7</div>
<div class="t xl" style="left:58.3px">Feb 1</div>
<div class="t xl" style="left:140.1px">Feb 3</div>
<div class="t xl" style="left:221.9px">Feb 5</div>
<div class="t xl" style="left:303.7px">Feb 7</div>
<div class="t xl" style="left:385.5px">Feb 9</div>
<div class="t xl" style="left:467.3px">Feb 11</div>
<div class="t xl" style="left:549.1px">Feb 13</div>
<div class="t xl" style="left:630.9px">Feb 15</div>
<div class="t xl" style="left:712.7px">Feb 17</div>
<div class="t xl" style="left:794.5px">Feb 19</div>
<div class="t xl" style="left:876.3px">Feb 21</div>
<div class="t xl" style="left:958.0px">Feb 23</div>
<div class="t xl" style="left:1039.8px">Feb 25</div>
<div class="t xl" style="left:1121.6px">Feb 27</div>
<div class="t xl" style="left:1203.4px;transform:scaleX(.92)">Mar 1</div>
<div class="t xt">Hour of Datetime [2021]</div>
<svg style="position:absolute;left:0;top:1195px" width="1275" height="28" viewBox="0 1195 1275 28"><g transform="translate(738.1 1204.8) rotate(45)" fill="#667586"><path d="M-3.9 0h7.8v1.200l-1.600 .4V5.300L4.700 8.000L.900 8.700L.450 9.500L.400 12.700h-.8L-.450 9.500L-.900 8.700L-4.700 8.000L-2.300 5.300V1.600l-1.600 -.4z"/></g></svg>
<div class="t yt">Count of MM-results-20210305-165540.csv</div>
<div class="tip" style="left:104px;top:574px;text-indent:-0.7px"><div style="top:7.8px"><span style="letter-spacing:.6px">Hour of Datetime: </span><b style="letter-spacing:.1px">February</b></div><div style="top:23.1px"><b>6, 2021 6 AM</b></div><div style="top:39.1px;letter-spacing:.42px">Count of MM-results-202103</div><div style="top:53.7px"><span style="letter-spacing:.07px">05-165540.csv: </span><b>2</b></div></div>
<div class="tip" style="left:385px;top:548px;text-indent:-0.9px"><div style="top:7.8px"><span style="letter-spacing:.6px">Hour of Datetime: </span><b style="letter-spacing:.1px">February</b></div><div style="top:23.1px"><b>7, 2021 7 AM</b></div><div style="top:39.1px;letter-spacing:.42px">Count of MM-results-202103</div><div style="top:53.7px"><span style="letter-spacing:.07px">05-165540.csv: </span><b>4</b></div></div>
<div class="tip" style="left:557px;top:536px;text-indent:-0.9px"><div style="top:7.8px"><span style="letter-spacing:.6px">Hour of Datetime: </span><b style="letter-spacing:.1px">February</b></div><div style="top:23.1px"><b>14, 2021 6 PM</b></div><div style="top:39.1px;letter-spacing:.42px">Count of MM-results-202103</div><div style="top:53.7px"><span style="letter-spacing:.07px">05-165540.csv: </span><b>1</b></div></div>
<div class="tip" style="left:801px;top:515px;text-indent:-0.1px"><div style="top:7.8px"><span style="letter-spacing:.6px">Hour of Datetime: </span><b style="letter-spacing:.1px">February</b></div><div style="top:23.1px"><b>15, 2021 2 AM</b></div><div style="top:39.1px;letter-spacing:.42px">Count of MM-results-202103</div><div style="top:53.7px"><span style="letter-spacing:.07px">05-165540.csv: </span><b>5</b></div></div>
</body></html>
